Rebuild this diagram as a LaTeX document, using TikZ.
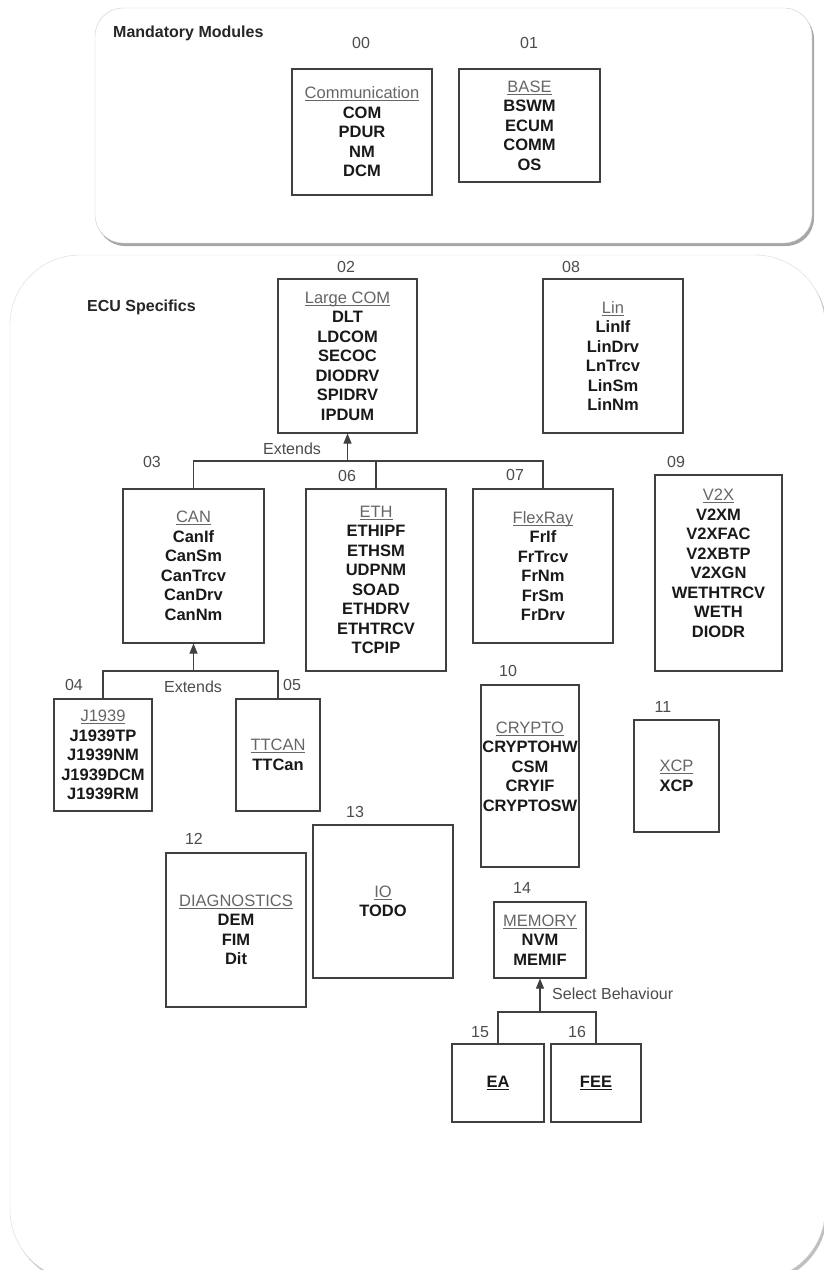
\documentclass[tikz,border=0pt]{standalone}
\usepackage{fontspec}
\setmainfont{Liberation Sans}
\usetikzlibrary{arrows.meta}
\newcommand{\myul}[1]{\setbox0=\hbox{#1}\makebox[0pt][l]{\rule[-2.4pt]{\wd0}{0.9pt}}\box0}
\newcommand{\hd}[1]{\textcolor{black!60}{\mdseries\myul{#1}}}
\tikzset{
  modbox/.style={draw=black!75, line width=1.1pt, fill=white, inner sep=0pt, align=center, text=black!90, font=\fontsize{16.5}{19.5}\selectfont\bfseries},
  numlbl/.style={text=black!70, font=\fontsize{16}{19}\selectfont, inner sep=0pt},
  conn/.style={draw=black!75, line width=1.1pt},
  arr/.style={conn, -{Triangle[length=10pt,width=8pt]}},
  grptitle/.style={font=\fontsize{16}{19}\selectfont\bfseries, text=black!85, inner sep=0pt, anchor=west},
}
\begin{document}
\begin{tikzpicture}[x=1pt, y=-1pt]
\useasboundingbox (0,0) rectangle (823,1270);
% containers
\fill[black!35, rounded corners=28pt] (97,11) rectangle (814,246);
\draw[black!20, fill=white, rounded corners=28pt] (95,8) rectangle (812,243);
\fill[black!25, rounded corners=70pt] (12,258) rectangle (827,1283);
\draw[black!15, fill=white, rounded corners=70pt] (10,255) rectangle (825,1280);
\node[grptitle] (tmand) at (113,33) {Mandatory Modules};
\node[grptitle] (tecu) at (87,307) {ECU Specifics};
% boxes
\node[modbox, minimum width=140pt, minimum height=126pt] (b00) at (362,132) {\hd{Communication}\\COM\\PDUR\\NM\\DCM};
\node[modbox, minimum width=141pt, minimum height=113pt] (b01) at (529.5,125.5) {\hd{BASE}\\BSWM\\ECUM\\COMM\\OS};
\node[modbox, minimum width=139pt, minimum height=154pt] (b02) at (347.5,356) {\hd{Large COM}\\DLT\\LDCOM\\SECOC\\DIODRV\\SPIDRV\\IPDUM};
\node[modbox, minimum width=140pt, minimum height=154pt] (b08) at (613,356) {\hd{Lin}\\LinIf\\LinDrv\\LnTrcv\\LinSm\\LinNm};
\node[modbox, minimum width=141pt, minimum height=154pt] (b03) at (193.5,566) {\hd{CAN}\\CanIf\\CanSm\\CanTrcv\\CanDrv\\CanNm};
\node[modbox, minimum width=140pt, minimum height=182pt] (b06) at (376,580) {\hd{ETH}\\ETHIPF\\ETHSM\\UDPNM\\SOAD\\ETHDRV\\ETHTRCV\\TCPIP};
\node[modbox, minimum width=140pt, minimum height=154pt] (b07) at (543,566) {\hd{FlexRay}\\FrIf\\FrTrcv\\FrNm\\FrSm\\FrDrv};
\node[modbox, minimum width=127pt, minimum height=196pt] (b09) at (718.5,573) {\hd{V2X}\\V2XM\\V2XFAC\\V2XBTP\\V2XGN\\WETHTRCV\\WETH\\DIODR\\~};
\node[modbox, minimum width=98pt, minimum height=112pt] (b04) at (103,755) {\hd{J1939}\\J1939TP\\J1939NM\\J1939DCM\\J1939RM};
\node[modbox, minimum width=84pt, minimum height=112pt] (b05) at (278,755) {\hd{TTCAN}\\TTCan};
\node[modbox, minimum width=98pt, minimum height=182pt] (b10) at (530,776) {\hd{CRYPTO}\\CRYPTOHW\\CSM\\CRYIF\\CRYPTOSW\\~};
\node[modbox, minimum width=85pt, minimum height=112pt] (b11) at (676.5,776) {\hd{XCP}\\XCP};
\node[modbox, minimum width=140pt, minimum height=154pt] (b12) at (236,930) {\hd{DIAGNOSTICS}\\DEM\\FIM\\Dit};
\node[modbox, minimum width=140pt, minimum height=153pt] (b13) at (383,901.5) {\hd{IO}\\TODO};
\node[modbox, minimum width=92pt, minimum height=76pt] (b14) at (540,940) {\hd{MEMORY}\\NVM\\MEMIF};
\node[modbox, minimum width=92pt, minimum height=78pt] (b15) at (498,1083) {\myul{EA}};
\node[modbox, minimum width=90pt, minimum height=78pt] (b16) at (596,1083) {\myul{FEE}};
% number labels
\node[numlbl] (l00) at (361,43) {00};
\node[numlbl] (l01) at (529,43) {01};
\node[numlbl] (l02) at (346,267) {02};
\node[numlbl] (l08) at (571,267) {08};
\node[numlbl] (l03) at (152,462) {03};
\node[numlbl] (l06) at (347,476) {06};
\node[numlbl] (l07) at (515,475) {07};
\node[numlbl] (l09) at (676,462) {09};
\node[numlbl] (l10) at (508,671) {10};
\node[numlbl] (l11) at (663,707) {11};
\node[numlbl] (l04) at (74,685) {04};
\node[numlbl] (l05) at (292,685) {05};
\node[numlbl] (l12) at (194,839) {12};
\node[numlbl] (l13) at (355,812) {13};
\node[numlbl] (l14) at (522,888) {14};
\node[numlbl] (l15) at (480,1032) {15};
\node[numlbl] (l16) at (577,1032) {16};
% connectors
\coordinate (y1) at (0,461);
\coordinate (j1) at (b02.south |- y1);
\draw[conn] (b03.north) |- (j1) -| (b07.north);
\draw[conn] (b06.north) -- (b06.north |- j1);
\draw[arr] (j1) -- (b02.south);
\node[numlbl] (ext1) at (292,449) {Extends};
\coordinate (y2) at (0,671);
\coordinate (j2) at (b03.south |- y2);
\draw[conn] (b04.north) |- (j2) -| (b05.north);
\draw[arr] (j2) -- (b03.south);
\node[numlbl] (ext2) at (193,687) {Extends};
\coordinate (y3) at (0,1012);
\coordinate (j3) at (b14.south |- y3);
\draw[conn] (b15.north) |- (j3) -| (b16.north);
\draw[arr] (j3) -- (b14.south);
\node[numlbl, anchor=west] (sel) at (552,994) {Select Behaviour};
\end{tikzpicture}
\end{document}
